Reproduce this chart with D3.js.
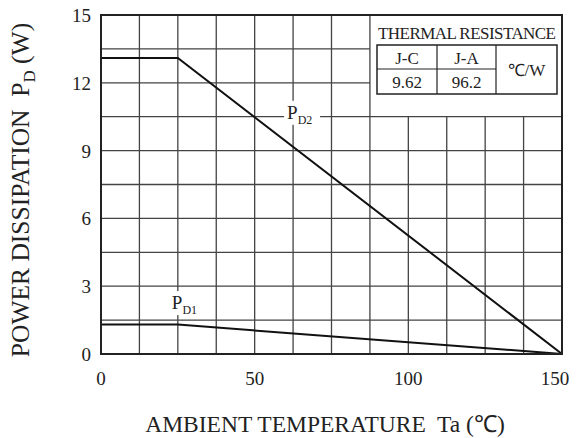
<!DOCTYPE html>
<html>
<head>
<meta charset="utf-8">
<script src="https://cdn.jsdelivr.net/npm/d3@7"></script>
<style>
  body { margin: 0; background: #fff; }
  text { font-family: "Liberation Serif", "Times New Roman", serif; fill: #222; }
</style>
</head>
<body>
<svg id="chart" width="576" height="438"></svg>
<script>
// 数据
var xTicks = [0, 50, 100, 150];
var yTicks = [0, 3, 6, 9, 12, 15];
var pd2Temp = [0, 25, 150];
var pd2Power = [13.1, 13.1, 0];
var pd1Temp = [0, 25, 150];
var pd1Power = [1.3, 1.3, 0];
var thermalHead = ["J-C", "J-A"];
var thermalVal = ["9.62", "96.2"];

var svg = d3.select("#chart");
var pLeft = 101, pRight = 562, pTop = 15, pBottom = 354;

var x = d3.scaleLinear().domain([0, 150]).range([pLeft, pRight]);
var y = d3.scaleLinear().domain([0, 15]).range([pBottom, pTop]);

var g = svg.append("g");

// 网格 每12.5度 / 每1.5W，表格区域不画
var vGrid = d3.range(12.5, 150, 12.5);
var hGrid = d3.range(1.5, 15, 1.5);
var gp = d3.path();
vGrid.forEach(function(d){
  gp.moveTo(x(d), d > 87.5 ? y(10.5) : pTop);
  gp.lineTo(x(d), pBottom);
});
hGrid.forEach(function(d){
  gp.moveTo(pLeft, y(d));
  gp.lineTo(d > 10.5 ? x(87.5) : pRight, y(d));
});
g.append("path").attr("d", gp.toString())
  .attr("fill", "none").attr("stroke", "#444").attr("stroke-width", 1.3);

// 曲线
var lineGen = d3.line().x(d => x(d[0])).y(d => y(d[1]));
g.append("path").datum(pd2Temp.map((t, i) => [t, pd2Power[i]]))
  .attr("d", lineGen).attr("fill", "none").attr("stroke", "#111").attr("stroke-width", 2);
g.append("path").datum(pd1Temp.map((t, i) => [t, pd1Power[i]]))
  .attr("d", lineGen).attr("fill", "none").attr("stroke", "#111").attr("stroke-width", 2);

// 标签 PD2, PD1
function subLabel(cx, cy, sub, w) {
  var lg = g.append("g");
  lg.append("rect").attr("x", cx - 9).attr("y", cy - 12).attr("width", w).attr("height", 24).attr("fill", "#fff");
  var t = lg.append("text").attr("x", cx - 6).attr("y", cy + 6).attr("font-size", 19);
  t.append("tspan").text("P");
  t.append("tspan").attr("font-size", 12).attr("dy", 5).text(sub);
}
subLabel(x(62.5), y(12) + 30, "D2", 36);
subLabel(x(25), y(1.5) - 17, "D1", 32);

// 外框
g.append("rect").attr("x", pLeft).attr("y", pTop).attr("width", pRight - pLeft).attr("height", pBottom - pTop)
  .attr("fill", "none").attr("stroke", "#222").attr("stroke-width", 2);

// 热阻表
var tx0 = 377, tx1 = 557, ty0 = 45, ty1 = 94, ty2 = 69, c1 = 437, c2 = 496;
var tb = g.append("g");
tb.append("text").attr("x", (tx0 + tx1) / 2).attr("y", 39).attr("text-anchor", "middle")
  .attr("font-size", 17).attr("textLength", 178).text("THERMAL RESISTANCE");
tb.append("rect").attr("x", tx0).attr("y", ty0).attr("width", tx1 - tx0).attr("height", ty1 - ty0)
  .attr("fill", "none").attr("stroke", "#222").attr("stroke-width", 1.5);
tb.append("line").attr("x1", tx0).attr("x2", c2).attr("y1", ty2).attr("y2", ty2).attr("stroke", "#222").attr("stroke-width", 1.2);
[c1, c2].forEach(c => tb.append("line").attr("x1", c).attr("x2", c).attr("y1", ty0).attr("y2", ty1).attr("stroke", "#222").attr("stroke-width", 1.2));
var cols = [(tx0 + c1) / 2, (c1 + c2) / 2];
thermalHead.forEach((h, i) => tb.append("text").attr("x", cols[i]).attr("y", 64).attr("text-anchor", "middle").attr("font-size", 17).text(h));
thermalVal.forEach((v, i) => tb.append("text").attr("x", cols[i]).attr("y", 88).attr("text-anchor", "middle").attr("font-size", 17).text(v));
tb.append("text").attr("x", (c2 + tx1) / 2).attr("y", 76).attr("text-anchor", "middle").attr("font-size", 17).text("℃/W");

// 坐标轴刻度
g.append("g").selectAll("text").data(xTicks).enter().append("text")
  .attr("x", d => d == 150 ? x(d) - 7 : x(d)).attr("y", 385).attr("text-anchor", "middle").attr("font-size", 19).text(d => d);
g.append("g").selectAll("text").data(yTicks).enter().append("text")
  .attr("x", 91).attr("y", d => y(d) + 7).attr("text-anchor", "end").attr("font-size", 19).text(d => d);

// 轴标题
g.append("text").attr("x", 325).attr("y", 432).attr("text-anchor", "middle").attr("font-size", 23.5)
  .attr("xml:space", "preserve").text("AMBIENT TEMPERATURE  Ta (℃)");
var yt = g.append("text").attr("transform", "translate(29,190) rotate(-90)").attr("text-anchor", "middle")
  .attr("font-size", 25.5).attr("xml:space", "preserve");
yt.append("tspan").text("POWER DISSIPATION  P");
yt.append("tspan").attr("font-size", 17).attr("dy", 6).text("D");
yt.append("tspan").attr("dy", -6).text(" (W)");
</script>
</body>
</html>
